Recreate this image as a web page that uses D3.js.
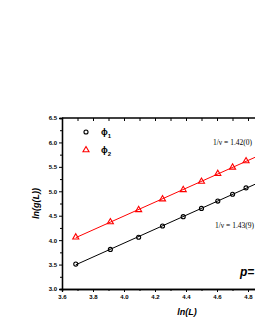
<!DOCTYPE html>
<html>
<head>
<meta charset="utf-8">
<script src="https://cdn.jsdelivr.net/npm/d3@7"></script>
<style>
  body { margin: 0; background: #fff; }
  svg { display: block; }
  .tick-label { font-family: "Liberation Sans", Arial, sans-serif; font-weight: bold; font-size: 6px; }
  .ax-title { font-family: "Liberation Sans", Arial, sans-serif; font-weight: bold; font-style: italic; font-size: 9px; }
  .note { font-family: "Liberation Serif", "Times New Roman", serif; font-size: 7.5px; fill: #000; }
</style>
</head>
<body>
<svg id="chart" width="255" height="330"></svg>
<script>
// ln(L) for L = 40, 50, ... 120
const sizes = [40, 50, 60, 70, 80, 90, 100, 110, 120];
const phi1 = [3.51, 3.81, 4.06, 4.29, 4.48, 4.65, 4.80, 4.94, 5.07];
const phi2 = [4.06, 4.37, 4.62, 4.84, 5.03, 5.20, 5.36, 5.49, 5.62];
const xTicks = [3.6, 3.8, 4.0, 4.2, 4.4, 4.6, 4.8];
const yTicks = [3.0, 3.5, 4.0, 4.5, 5.0, 5.5, 6.0, 6.5];
const notes = ["1/ν = 1.42(0)", "1/ν = 1.43(9)"];

(function () {
  const svg = d3.select('#chart');
  const left = 62, top = 118, bottom = 289, right = 279;

  const x = d3.scaleLinear().domain([3.6, 5.0]).range([left, right]);
  const y = d3.scaleLinear().domain([3.0, 6.5]).range([bottom, top]);

  const lnL = sizes.map(Math.log);

  // frame
  svg.append('line').attr('x1', left).attr('x2', right).attr('y1', top).attr('y2', top)
    .attr('stroke', '#000').attr('stroke-width', 1.3);

  // bottom axis
  const gx = svg.append('g').attr('transform', `translate(0,${bottom})`)
    .call(d3.axisBottom(x).tickValues(xTicks).tickFormat(d3.format('.1f')).tickSize(3).tickPadding(3));
  gx.append('g').call(d3.axisBottom(x).tickValues(d3.range(3.7, 5.0, 0.2)).tickFormat('').tickSize(2));
  // left axis
  const gy = svg.append('g').attr('transform', `translate(${left},0)`)
    .call(d3.axisLeft(y).tickValues(yTicks).tickFormat(d3.format('.1f')).tickSize(3).tickPadding(2));
  gy.append('g').call(d3.axisLeft(y).tickValues(d3.range(3.25, 6.5, 0.5)).tickFormat('').tickSize(2));
  // top axis ticks inside
  svg.append('g').attr('transform', `translate(0,${top})`)
    .call(d3.axisBottom(x).tickValues(d3.range(3.7, 5.01, 0.1)).tickFormat('').tickSize(3))
    .select('.domain').remove();

  svg.selectAll('.domain').attr('stroke-width', 1.3);
  svg.selectAll('.tick line').attr('stroke-width', 1);
  svg.selectAll('.tick text').attr('class', 'tick-label').attr('fill', '#000');

  svg.append('text').attr('class', 'ax-title').attr('x', 187).attr('y', 315)
    .attr('text-anchor', 'middle').text('ln(L)');
  svg.append('text').attr('class', 'ax-title')
    .attr('transform', `translate(39,${(top + bottom) / 2}) rotate(-90)`)
    .attr('text-anchor', 'middle').text('ln(g(L))');

  // least-squares fit lines
  function fit(ys) {
    const mx = d3.mean(lnL), my = d3.mean(ys);
    const b = d3.sum(lnL, (v, i) => (v - mx) * (ys[i] - my)) / d3.sum(lnL, v => (v - mx) * (v - mx));
    return [b, my - b * mx];
  }
  const series = [
    { vals: phi1, color: '#000', shape: 'circle' },
    { vals: phi2, color: '#ff0000', shape: 'triangle' }
  ];
  series.forEach(s => {
    const [b, a] = fit(s.vals);
    const x0 = lnL[0], x1 = 5.0;
    svg.append('line').attr('x1', x(x0)).attr('y1', y(a + b * x0)).attr('x2', x(x1)).attr('y2', y(a + b * x1))
      .attr('stroke', s.color).attr('stroke-width', 1);
  });

  const circleSym = d3.symbol().type(d3.symbolCircle).size(13);
  const triSym = d3.symbol().type(d3.symbolTriangle).size(16);
  series.forEach(s => {
    svg.append('g').selectAll('path').data(s.vals).join('path')
      .attr('d', s.shape === 'circle' ? circleSym : triSym)
      .attr('transform', (d, i) => `translate(${x(lnL[i])},${y(d)})`)
      .attr('fill', 'none').attr('stroke', s.color).attr('stroke-width', 1.1);
  });

  // legend
  const leg = svg.append('g').attr('font-family', '"Liberation Sans", Arial, sans-serif').attr('font-weight', 'bold');
  leg.append('path').attr('d', circleSym).attr('transform', 'translate(86,132)')
    .attr('fill', 'none').attr('stroke', '#000').attr('stroke-width', 1.1);
  leg.append('path').attr('d', triSym).attr('transform', 'translate(86,150)')
    .attr('fill', 'none').attr('stroke', '#ff0000').attr('stroke-width', 1.1);
  [['1', 135], ['2', 153]].forEach(([k, yy]) => {
    const t = leg.append('text').attr('x', 101).attr('y', yy).attr('font-size', 9);
    t.append('tspan').text('ϕ');
    t.append('tspan').attr('font-size', 6).attr('dy', 3).text(k);
  });

  // annotations
  svg.append('text').attr('class', 'note').attr('x', 213).attr('y', 145).text(notes[0]);
  svg.append('text').attr('class', 'note').attr('x', 215).attr('y', 228).text(notes[1]);
  svg.append('text').attr('x', 240).attr('y', 276)
    .attr('font-family', '"Liberation Sans", Arial, sans-serif').attr('font-weight', 'bold')
    .attr('font-style', 'italic').attr('font-size', 12).text('p=');
})();
</script>
</body>
</html>
